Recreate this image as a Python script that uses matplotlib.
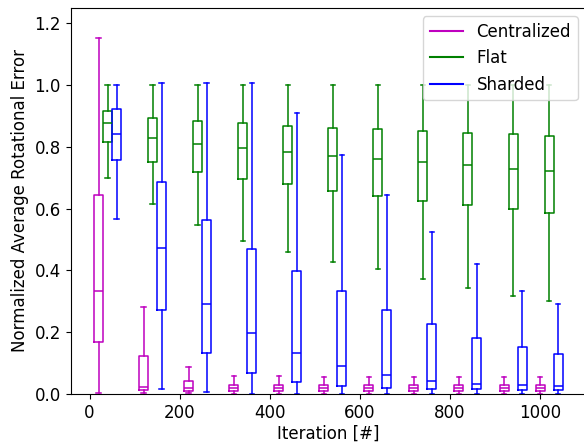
import matplotlib
matplotlib.use("Agg")
import matplotlib.pyplot as plt
from matplotlib.lines import Line2D

plt.rcParams["font.size"] = 12

iterations = [0, 100, 200, 300, 400, 500, 600, 700, 800, 900, 980]

# Centralized
cen_whislo = [0.004, 0.002, 0.002, 0.001, 0.001, 0.001, 0.001, 0.001, 0.001, 0.001, 0.001]
cen_q1     = [0.169, 0.013, 0.011, 0.011, 0.011, 0.010, 0.010, 0.010, 0.010, 0.010, 0.009]
cen_med    = [0.334, 0.024, 0.018, 0.018, 0.020, 0.019, 0.019, 0.019, 0.018, 0.018, 0.018]
cen_q3     = [0.646, 0.124, 0.041, 0.030, 0.029, 0.029, 0.029, 0.029, 0.029, 0.029, 0.029]
cen_whishi = [1.154, 0.283, 0.086, 0.057, 0.058, 0.056, 0.054, 0.054, 0.054, 0.055, 0.056]

# Flat
flat_whislo = [0.700, 0.616, 0.547, 0.496, 0.460, 0.428, 0.405, 0.372, 0.343, 0.318, 0.300]
flat_q1     = [0.816, 0.750, 0.720, 0.697, 0.679, 0.657, 0.642, 0.626, 0.613, 0.598, 0.587]
flat_med    = [0.876, 0.828, 0.809, 0.797, 0.783, 0.771, 0.761, 0.750, 0.741, 0.730, 0.723]
flat_q3     = [0.917, 0.893, 0.883, 0.876, 0.869, 0.862, 0.858, 0.851, 0.846, 0.841, 0.837]
flat_whishi = [1.001, 1.001, 1.001, 1.001, 1.001, 1.001, 1.001, 1.001, 1.001, 1.001, 1.001]

# Sharded
sh_whislo = [0.567, 0.017, 0.008, 0.001, 0.001, 0.001, 0.001, 0.001, 0.001, 0.001, 0.001]
sh_q1     = [0.759, 0.271, 0.133, 0.069, 0.038, 0.026, 0.020, 0.017, 0.015, 0.014, 0.013]
sh_med    = [0.842, 0.474, 0.290, 0.197, 0.134, 0.090, 0.061, 0.043, 0.032, 0.029, 0.025]
sh_q3     = [0.924, 0.688, 0.562, 0.470, 0.397, 0.335, 0.272, 0.228, 0.182, 0.151, 0.131]
sh_whishi = [1.001, 1.008, 1.008, 1.008, 0.910, 0.775, 0.645, 0.526, 0.421, 0.332, 0.292]


def make_stats(whislo, q1, med, q3, whishi):
    return [dict(whislo=a, q1=b, med=c, q3=d, whishi=e, fliers=[])
            for a, b, c, d, e in zip(whislo, q1, med, q3, whishi)]


series = [
    ("Centralized", "m", 20, make_stats(cen_whislo, cen_q1, cen_med, cen_q3, cen_whishi)),
    ("Flat", "g", 40, make_stats(flat_whislo, flat_q1, flat_med, flat_q3, flat_whishi)),
    ("Sharded", "b", 60, make_stats(sh_whislo, sh_q1, sh_med, sh_q3, sh_whishi)),
]

fig = plt.figure(figsize=(5.84, 4.43), dpi=100)
ax = fig.add_axes([70.7 / 584, 49 / 443, (586 - 70.7) / 584, (394 - 8) / 443])

handles = []
for name, col, off, stats in series:
    pos = [it + off for it in iterations]
    props = dict(color=col, linewidth=1.1)
    ax.bxp(stats, positions=pos, widths=20, manage_ticks=False,
           boxprops=props, whiskerprops=props, capprops=props, medianprops=props)
    handles.append(Line2D([], [], color=col, label=name))

ax.set_xlim(-42, 1102)
ax.set_ylim(0, 1.25)
ax.set_xticks([0, 200, 400, 600, 800, 1000])
ax.set_yticks([0.0, 0.2, 0.4, 0.6, 0.8, 1.0, 1.2])
ax.set_xlabel("Iteration [#]", labelpad=2)
ax.set_ylabel("Normalized Average Rotational Error")
ax.legend(handles=handles, loc="upper right")

fig.savefig("out.png", dpi=100)
